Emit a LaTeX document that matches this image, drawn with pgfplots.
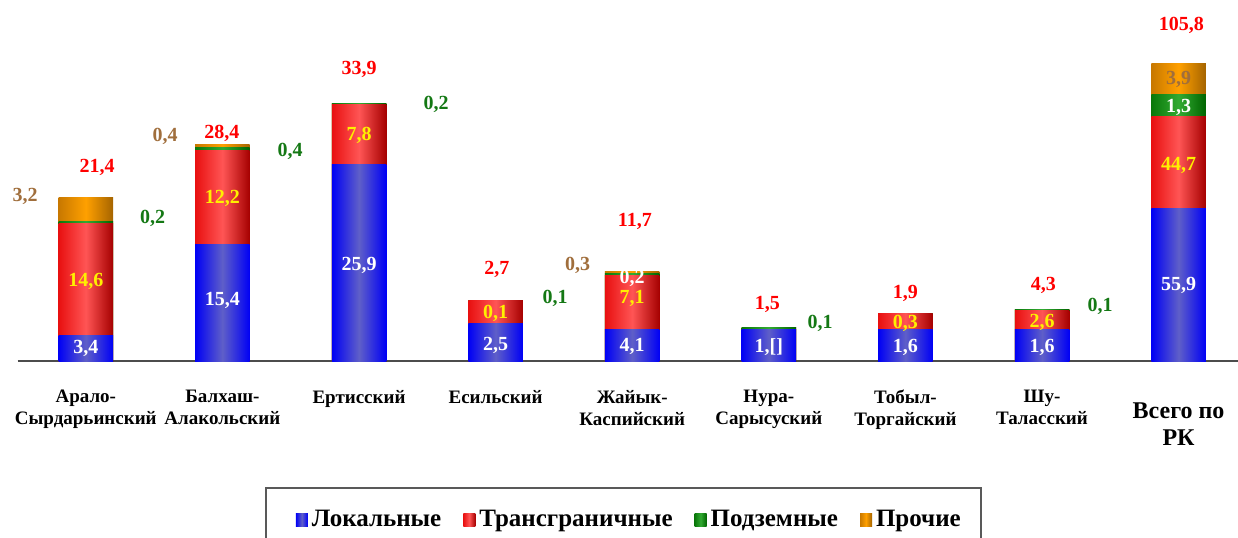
\documentclass[border=0pt]{standalone}
\usepackage{fontspec}
\setmainfont{Liberation Serif}
\usepackage{pgfplots}
\usepackage{pgfplotstable}
\pgfplotsset{compat=1.18}
\definecolor{cBlue}{RGB}{0,0,245}
\definecolor{cBlueMid}{RGB}{95,95,200}
\definecolor{cRedL}{RGB}{232,16,16}
\definecolor{cRedM}{RGB}{255,85,85}
\definecolor{cRedR}{RGB}{165,0,0}
\definecolor{cGreenL}{RGB}{10,120,10}
\definecolor{cGreenM}{RGB}{50,170,50}
\definecolor{cGreenR}{RGB}{0,100,0}
\definecolor{cOrL}{RGB}{200,120,0}
\definecolor{cOrM}{RGB}{255,160,0}
\definecolor{cOrR}{RGB}{165,100,0}
\definecolor{txtGreen}{RGB}{20,120,20}
\definecolor{txtBrown}{RGB}{160,110,60}
\definecolor{txtYellow}{RGB}{255,240,0}
\definecolor{txtRed}{RGB}{255,0,0}
\tikzset{lbl/.style={font=\fontsize{10pt}{12pt}\selectfont\bfseries, inner sep=0pt}}
\pgfplotsset{
  bluebar/.style={draw=none, left color=cBlue, right color=cBlue, middle color=cBlueMid},
  redbar/.style={draw=none, left color=cRedL, right color=cRedR, middle color=cRedM},
  greenbar/.style={draw=none, left color=cGreenL, right color=cGreenR, middle color=cGreenM},
  orangebar/.style={draw=none, left color=cOrL, right color=cOrR, middle color=cOrM},
}

% segment heights as drawn in the reference (the last bar, "Всего по РК", is drawn on its own scale)
\pgfplotstableread{
x blue red green orange
0 3.3 14.8 0.2 3.2
1 15.3 12.4 0.4 0.4
2 25.9 7.8 0.2 0
3 5.0 2.9 0.1 0
4 4.1 7.2 0.2 0.3
5 4.2 0 0.15 0
6 4.1 2.1 0 0
7 4.1 2.6 0.1 0
8 20.1 12.1 2.9 4.1
}\datatable

\begin{document}
\begin{tikzpicture}
\begin{axis}[
  set layers,
  at={(8.75pt,88pt)}, anchor=south west,
  x=68.3pt, y=3.8pt,
  xmin=-0.5, xmax=8.435, ymin=0, ymax=40,
  ybar, bar width=27.25pt, bar shift=0pt,
  every axis plot post/.append style={bar shift=0pt},
  axis y line=none, axis x line*=bottom,
  x axis line style={-, draw=black!70, line width=1pt},
  xtick={0,...,7},
  xticklabels={{Арало-\\Сырдарьинский},{Балхаш-\\Алакольский},{Ертисский},{Есильский},{Жайык-\\Каспийский},{Нура-\\Сарысуский},{Тобыл-\\Торгайский},{Шу-\\Таласский}},
  xticklabel style={align=center, anchor=north, yshift=-11pt, font=\fontsize{9.5pt}{11pt}\selectfont\bfseries},
  extra x ticks={8},
  extra x tick labels={{Всего по\\РК}},
  extra x tick style={xticklabel style={yshift=-6.5pt, font=\fontsize{12pt}{13.5pt}\selectfont\bfseries}},
  major tick length=0pt,
  clip=false,
  legend columns=4,
  legend style={at={(0.2028,-0.4145)}, anchor=north west, draw=black!65, line width=0.8pt,
    font=\fontsize{12.5pt}{14pt}\selectfont\bfseries, inner xsep=8pt, inner ysep=9pt,
    /tikz/every even column/.append style={column sep=9pt}},
]
\pgfplotsinvokeforeach{0,...,8}{
  \addplot[forget plot, orangebar, restrict x to domain=#1:#1] table[x=x, y expr=\thisrow{blue}+\thisrow{red}+\thisrow{green}+\thisrow{orange}]{\datatable};
  \addplot[forget plot, greenbar, restrict x to domain=#1:#1] table[x=x, y expr=\thisrow{blue}+\thisrow{red}+\thisrow{green}]{\datatable};
  \addplot[forget plot, redbar, restrict x to domain=#1:#1] table[x=x, y expr=\thisrow{blue}+\thisrow{red}]{\datatable};
  \addplot[forget plot, bluebar, restrict x to domain=#1:#1] table[x=x, y=blue]{\datatable};
}
\addlegendimage{legend image code/.code={\path[draw=none] (0pt,0pt) -- (7pt,0pt); \path[draw=none, left color=cBlue, right color=cBlue, middle color=cBlueMid] (7pt,-3.25pt) rectangle (13pt,3.25pt);}}
\addlegendentry{Локальные}
\addlegendimage{legend image code/.code={\path[draw=none, left color=cRedL, right color=cRedR, middle color=cRedM] (0pt,-3.25pt) rectangle (6pt,3.25pt);}}
\addlegendentry{Трансграничные}
\addlegendimage{legend image code/.code={\path[draw=none, left color=cGreenL, right color=cGreenR, middle color=cGreenM] (0pt,-3.25pt) rectangle (6pt,3.25pt);}}
\addlegendentry{Подземные}
\addlegendimage{legend image code/.code={\path[draw=none, left color=cOrL, right color=cOrR, middle color=cOrM] (0pt,-3.25pt) rectangle (6pt,3.25pt);}}
\addlegendentry{Прочие}

\begin{pgfonlayer}{axis foreground}
% totals
\node[lbl, txtRed] at (axis cs:0.082,25.5) {21,4};
\node[lbl, txtRed] at (axis cs:0.997,29.9) {28,4};
\node[lbl, txtRed] at (axis cs:2.0,38.3) {33,9};
\node[lbl, txtRed] at (axis cs:3.01,12.0) {2,7};
\node[lbl, txtRed] at (axis cs:4.02,18.3) {11,7};
\node[lbl, txtRed] at (axis cs:4.99,7.4) {1,5};
\node[lbl, txtRed] at (axis cs:6.0,8.9) {1,9};
\node[lbl, txtRed] at (axis cs:7.01,10.0) {4,3};
\node[lbl, txtRed] at (axis cs:8.02,44.2) {105,8};
% other (brown)
\node[lbl, txtBrown] at (axis cs:-0.445,21.7) {3,2};
\node[lbl, txtBrown] at (axis cs:0.58,29.5) {0,4};
\node[lbl, txtBrown] at (axis cs:3.6,12.6) {0,3};
\node[lbl, txtBrown] at (axis cs:8.0,37.0) {3,9};
% underground (green)
\node[lbl, txtGreen] at (axis cs:0.49,18.7) {0,2};
\node[lbl, txtGreen] at (axis cs:1.495,27.6) {0,4};
\node[lbl, txtGreen] at (axis cs:2.565,33.7) {0,2};
\node[lbl, txtGreen] at (axis cs:3.435,8.2) {0,1};
\node[lbl, txtGreen] at (axis cs:5.375,5.0) {0,1};
\node[lbl, txtGreen] at (axis cs:7.425,7.2) {0,1};
\node[lbl, white] at (axis cs:4.0,10.9) {0,2};
\node[lbl, white] at (axis cs:8.0,33.4) {1,3};
% local (white)
\node[lbl, white] at (axis cs:0,1.7) {3,4};
\node[lbl, white] at (axis cs:1,8.0) {15,4};
\node[lbl, white] at (axis cs:2,12.6) {25,9};
\node[lbl, white] at (axis cs:3,2.1) {2,5};
\node[lbl, white] at (axis cs:4,1.85) {4,1};
\node[lbl, white] at (axis cs:5,1.85) {1,[]};
\node[lbl, white] at (axis cs:6,1.85) {1,6};
\node[lbl, white] at (axis cs:7,1.85) {1,6};
\node[lbl, white] at (axis cs:8,10.0) {55,9};
% transboundary (yellow)
\node[lbl, txtYellow] at (axis cs:0,10.5) {14,6};
\node[lbl, txtYellow] at (axis cs:1,21.4) {12,2};
\node[lbl, txtYellow] at (axis cs:2,29.7) {7,8};
\node[lbl, txtYellow] at (axis cs:3,6.3) {0,1};
\node[lbl, txtYellow] at (axis cs:4,8.2) {7,1};
\node[lbl, txtYellow] at (axis cs:6,5.0) {0,3};
\node[lbl, txtYellow] at (axis cs:7,5.1) {2,6};
\node[lbl, txtYellow] at (axis cs:8,25.7) {44,7};
\end{pgfonlayer}
\end{axis}
\pgfresetboundingbox
\useasboundingbox (0,0) rectangle (619pt,268.5pt);
\end{tikzpicture}
\end{document}
